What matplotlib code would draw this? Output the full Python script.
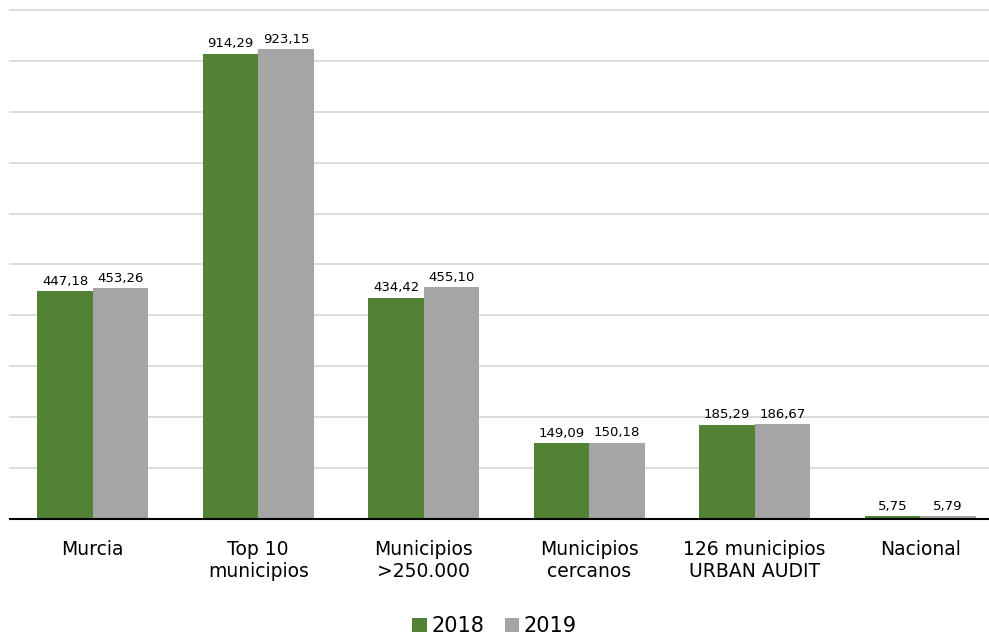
import matplotlib
matplotlib.use("Agg")
import matplotlib.pyplot as plt
import numpy as np

categories = [
    'Murcia',
    'Top 10\nmunicipios',
    'Municipios\n>250.000',
    'Municipios\ncercanos',
    '126 municipios\nURBAN AUDIT',
    'Nacional',
]
values_2018 = [447.18, 914.29, 434.42, 149.09, 185.29, 5.75]
values_2019 = [453.26, 923.15, 455.10, 150.18, 186.67, 5.79]
series_names = ['2018', '2019']

green = '#548235'
gray = '#A5A5A5'
bar_width = 0.335

plt.rcParams['font.family'] = ['DejaVu Sans']

fig = plt.figure(figsize=(9.89, 6.39), dpi=100)
ax = fig.add_axes([0.0101, 0.1878, 1.004, 0.7966])

x = np.arange(len(categories))
bar1 = ax.bar(x - bar_width / 2, values_2018, bar_width, color=green, label=series_names[0], zorder=3)
bar2 = ax.bar(x + bar_width / 2, values_2019, bar_width, color=gray, label=series_names[1], zorder=3)

def fmt(v):
    return ("%.2f" % v).replace('.', ',')

for bars, vals in ((bar1, values_2018), (bar2, values_2019)):
    for rect, v in zip(bars, vals):
        ax.annotate(fmt(v), (rect.get_x() + rect.get_width() / 2, rect.get_height()),
                    xytext=(0, 2.5), textcoords='offset points',
                    ha='center', va='bottom', fontsize=9.5, color='#000000')

ax.set_xlim(-0.5, len(categories) - 0.5)
ax.set_ylim(0, 1000)
ax.set_yticks(np.arange(0, 1001, 100))
ax.yaxis.grid(True, color='#D9D9D9', linewidth=1.3, zorder=0)
for gl in ax.get_ygridlines():
    gl.set_clip_on(False)
ax.set_yticklabels([])
ax.tick_params(axis='y', length=0)
ax.tick_params(axis='x', length=0, labelsize=13.5, pad=15)
ax.set_xticks(x)
ax.set_xticklabels(categories)
for s in ['top', 'right', 'left']:
    ax.spines[s].set_visible(False)
ax.spines['bottom'].set_linewidth(1.5)
ax.spines['bottom'].set_color('#000000')
ax.spines['bottom'].set_zorder(4)

fig.legend(loc='lower center', bbox_to_anchor=(0.5, -0.025), ncol=2, frameon=False,
           fontsize=15, handlelength=0.7, handleheight=0.7, handletextpad=0.2,
           columnspacing=1.0)

fig.savefig('out.png', dpi=100)
plt.close()
